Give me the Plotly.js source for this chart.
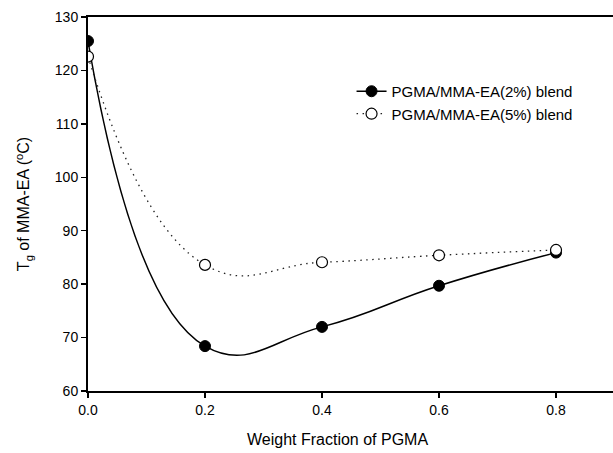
<!DOCTYPE html>
<html>
<head>
<meta charset="utf-8">
<script src="https://cdn.plot.ly/plotly-3.0.1.min.js"></script>
<style>html,body{margin:0;padding:0;background:#fff;}#chart{width:613px;height:453px;}</style>
</head>
<body>
<div id="chart"></div>
<script>
const weightFraction = [0.0, 0.2, 0.4, 0.6, 0.8];
const tg2 = [125.5, 68.4, 72.0, 79.7, 85.9];
const tg5 = [122.6, 83.6, 84.1, 85.4, 86.4];
const seriesNames = ['PGMA/MMA-EA(2%) blend', 'PGMA/MMA-EA(5%) blend'];
const xTicks = [0.0, 0.2, 0.4, 0.6, 0.8];
const yTicks = [60, 70, 80, 90, 100, 110, 120, 130];

const font = {family: 'Liberation Sans, Arial, sans-serif', color: '#000'};

const traces = [
  {
    x: weightFraction, y: tg2, name: seriesNames[0], type: 'scatter', mode: 'lines+markers',
    line: {color: '#000', width: 1.5, shape: 'spline', smoothing: 1.3},
    marker: {symbol: 'circle', size: 11, color: '#000', line: {color: '#000', width: 1}}
  },
  {
    x: weightFraction, y: tg5, name: seriesNames[1], type: 'scatter', mode: 'lines+markers',
    line: {color: '#222', width: 1.3, dash: '1.5px,4.5px', shape: 'spline', smoothing: 1.3},
    marker: {symbol: 'circle', size: 11, color: '#fff', line: {color: '#000', width: 1.2}}
  }
];

const layout = {
  width: 613, height: 453,
  margin: {l: 88, r: 0, t: 17, b: 62},
  paper_bgcolor: '#fff', plot_bgcolor: '#fff',
  font: Object.assign({size: 14}, font),
  showlegend: true,
  legend: {x: 0.502, y: 0.845, xanchor: 'left', yanchor: 'top', bgcolor: 'rgba(0,0,0,0)',
           font: Object.assign({size: 15}, font), tracegroupgap: 0},
  xaxis: {
    range: [0, 0.8974], tickvals: xTicks, tickformat: '.1f',
    showline: true, linecolor: '#000', linewidth: 2, mirror: true,
    ticks: 'outside', ticklen: 5, tickwidth: 1.5, tickcolor: '#000',
    showgrid: false, zeroline: false,
    tickfont: Object.assign({size: 14}, font)
  },
  yaxis: {
    range: [60, 130], tickvals: yTicks,
    showline: true, linecolor: '#000', linewidth: 2,
    ticks: 'outside', ticklen: 5, tickwidth: 1.5, tickcolor: '#000',
    showgrid: false, zeroline: false,
    tickfont: Object.assign({size: 14}, font),
    title: {text: 'T<sub>g</sub> of MMA-EA (<sup>o</sup>C)', font: Object.assign({size: 16}, font), standoff: 21}
  },
  annotations: [
    {text: 'Weight Fraction of PGMA', xref: 'paper', yref: 'paper', x: (337 - 88) / 525, y: 0,
     yshift: -48, xanchor: 'center', yanchor: 'middle', showarrow: false, font: Object.assign({size: 16}, font)}
  ]
};

Plotly.newPlot('chart', traces, layout, {displayModeBar: false, staticPlot: true});
</script>
</body>
</html>
